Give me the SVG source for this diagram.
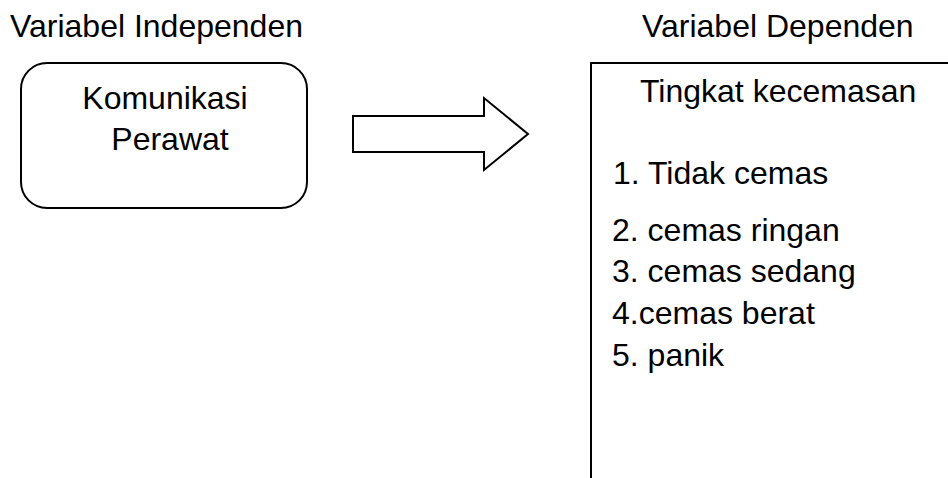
<svg xmlns="http://www.w3.org/2000/svg" width="948" height="478" viewBox="0 0 948 478">
  <style>
    text { font-family: "Liberation Sans", Arial, sans-serif; font-size: 32px; fill: #000; }
    .shape { fill: #fff; stroke: #000; stroke-width: 2; }
  </style>
  <rect width="948" height="478" fill="#fff"/>

  <text x="10" y="37">Variabel Independen</text>
  <text x="642" y="37">Variabel Dependen</text>

  <g id="komunikasi-perawat">
    <rect class="shape" x="21" y="63" width="286" height="145" rx="26" ry="26"/>
    <text x="165" y="109" text-anchor="middle">Komunikasi</text>
    <text x="170" y="150" text-anchor="middle">Perawat</text>
  </g>

  <g id="connectors">
    <polygon class="shape" points="353,116 484,116 484,98 528,134 484,170 484,152 353,152"/>
  </g>

  <g id="tingkat-kecemasan">
    <rect class="shape" x="591" y="63" width="400" height="460"/>
    <text x="640" y="102">Tingkat kecemasan</text>
    <text x="613" y="184">1. Tidak cemas</text>
    <text x="612" y="241">2. cemas ringan</text>
    <text x="612" y="282">3. cemas sedang</text>
    <text x="612" y="324">4.cemas berat</text>
    <text x="612" y="366">5. panik</text>
  </g>
</svg>
